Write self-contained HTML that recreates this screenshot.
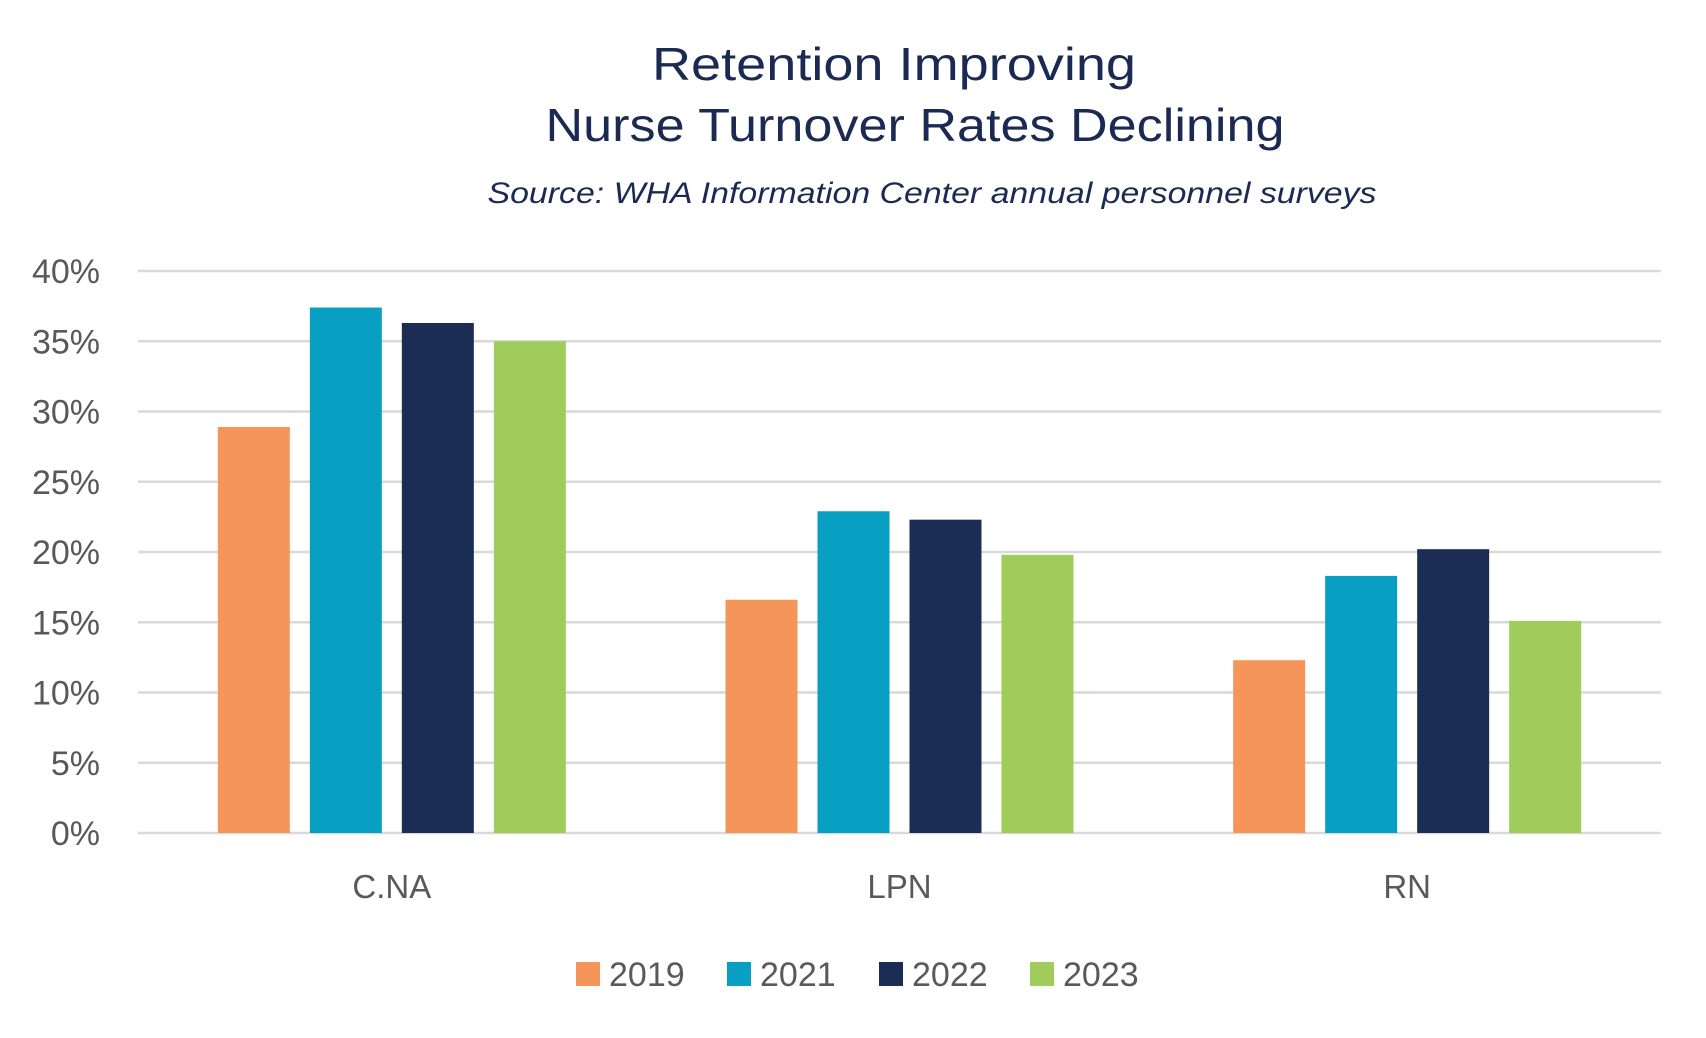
<!DOCTYPE html>
<html><head><meta charset="utf-8"><style>
html,body{margin:0;padding:0;background:#fff;}
svg{display:block;font-family:"Liberation Sans",sans-serif;}
</style></head><body>
<svg id="chart" width="1706" height="1038" viewBox="0 0 1706 1038" xmlns="http://www.w3.org/2000/svg">
<text x="894" y="80" text-anchor="middle" font-size="46" fill="#1b2a52" textLength="484" lengthAdjust="spacingAndGlyphs">Retention Improving</text>
<text x="915" y="141" text-anchor="middle" font-size="46" fill="#1b2a52" textLength="739" lengthAdjust="spacingAndGlyphs">Nurse Turnover Rates Declining</text>
<text x="932" y="203" text-anchor="middle" font-size="30" font-style="italic" fill="#1b2a52" textLength="889" lengthAdjust="spacingAndGlyphs">Source: WHA Information Center annual personnel surveys</text>
<g id="grid"></g>
<g id="yaxis"></g>
<g id="bars"></g>
<g id="xaxis"></g>
<g id="legend"></g>
</svg>
<script>
const categories = ["C.NA", "LPN", "RN"];
const seriesNames = ["2019", "2021", "2022", "2023"];
const values2019 = [28.9, 16.6, 12.3];
const values2021 = [37.4, 22.9, 18.3];
const values2022 = [36.3, 22.3, 20.2];
const values2023 = [35.0, 19.8, 15.1];
const yTicks = [0, 5, 10, 15, 20, 25, 30, 35, 40];
const yTickLabels = ["0%", "5%", "10%", "15%", "20%", "25%", "30%", "35%", "40%"];
const colors = ["#f5955a", "#089fc3", "#1b2c55", "#a0cc5c"];

const NS = "http://www.w3.org/2000/svg";
const plotL = 138, plotR = 1661, y0 = 833, y40 = 271;
const yMax = 40;
function yScale(v){ return y0 - (v / yMax) * (y0 - y40); }
const groupW = (plotR - plotL) / categories.length;
function xCenter(i){ return plotL + groupW * (i + 0.5); }
const barW = 72, barStep = 92;
function mk(tag, attrs, parent){
  const el = document.createElementNS(NS, tag);
  for (const k in attrs) el.setAttribute(k, attrs[k]);
  parent.appendChild(el);
  return el;
}
const grid = document.getElementById('grid');
const yaxis = document.getElementById('yaxis');
yTicks.forEach((t, i) => {
  const ln = mk('line', {x1: plotL, x2: plotR, y1: yScale(t), y2: yScale(t), stroke: '#d9d9d9', 'stroke-width': 2.5}, grid);
  
  
  const tx = mk('text', {x: 100, y: yScale(t) + 12, 'text-anchor': 'end', 'font-size': 34, fill: '#595959'}, yaxis);
  tx.textContent = yTickLabels[i];
  
  
});
const allSeries = [values2019, values2021, values2022, values2023];
const bars = document.getElementById('bars');
categories.forEach((c, ci) => {
  allSeries.forEach((vals, si) => {
    const cx = xCenter(ci) + (si - 1.5) * barStep;
    const r = mk('rect', {x: cx - barW / 2, y: yScale(vals[ci]), width: barW, height: y0 - yScale(vals[ci]), fill: colors[si]}, bars);
    
    
  });
});
const xaxis = document.getElementById('xaxis');
categories.forEach((c, ci) => {
  const tx = mk('text', {x: xCenter(ci), y: 898, 'text-anchor': 'middle', 'font-size': 33, fill: '#595959'}, xaxis);
  tx.textContent = c;
  
  
});
const legend = document.getElementById('legend');
const legX = [576, 727, 879, 1030];
seriesNames.forEach((s, si) => {
  const g = mk('g', {}, legend);
  
  
  mk('rect', {x: legX[si], y: 962, width: 24, height: 24, fill: colors[si]}, g);
  const tx = mk('text', {x: legX[si] + 33, y: 986, 'font-size': 34, fill: '#595959'}, g);
  tx.textContent = s;
});
</script>
</body></html>
